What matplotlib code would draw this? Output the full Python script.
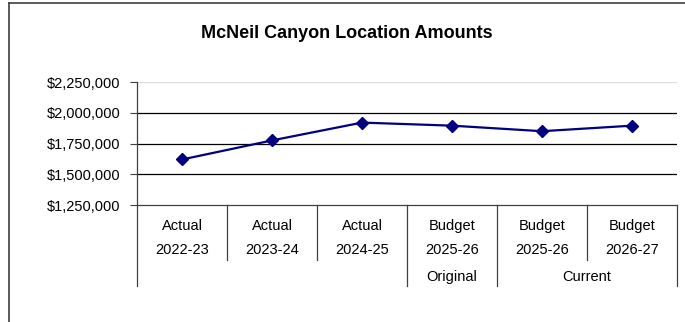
import matplotlib
matplotlib.use("Agg")
import matplotlib.pyplot as plt
from matplotlib.lines import Line2D
from matplotlib.ticker import FuncFormatter

plt.rcParams['font.family'] = ['Liberation Sans', 'DejaVu Sans']

# data
row1 = ["Actual", "Actual", "Actual", "Budget", "Budget", "Budget"]
row2 = ["2022-23", "2023-24", "2024-25", "2025-26", "2025-26", "2026-27"]
groups = [("", 0, 3), ("Original", 3, 4), ("Current", 4, 6)]
amounts = [1620000, 1775000, 1920000, 1895000, 1850000, 1895000]
yticks = [1250000, 1500000, 1750000, 2000000, 2250000]

W, H = 685, 322
fig = plt.figure(figsize=(W / 100, H / 100), dpi=100)

# plot area in pixels: x 137..677, y 82..205
ax = fig.add_axes([137 / W, 1 - 205 / H, 540 / W, 123 / H])
x = [i + 0.5 for i in range(len(amounts))]
ax.plot(x, amounts, color="#000080", lw=1.6, marker="D", ms=6,
        mec="#000080", mfc="#000080", zorder=3)

ax.set_xlim(0, len(amounts))
ax.set_ylim(yticks[0], yticks[-1])
ax.set_yticks(yticks)
ax.yaxis.set_major_formatter(FuncFormatter(lambda v, p: "${:,.0f}".format(v)))
ax.tick_params(axis="y", length=5, width=0.8, color="#404040", labelsize=10.5, pad=7)
ax.set_xticks([])

for t in yticks[1:-1]:
    ax.axhline(t, color="black", lw=0.9, zorder=1)
ax.axhline(yticks[-1], color="#dddddd", lw=0.9, zorder=1)

for s in ["top", "right"]:
    ax.spines[s].set_visible(False)
ax.spines["left"].set_color("#404040")
ax.spines["bottom"].set_color("#404040")
ax.spines["left"].set_linewidth(0.9)
ax.spines["bottom"].set_linewidth(0.9)

# multi-level category axis
trans = ax.get_xaxis_transform()
r1_y, r2_y, r3_y = -0.171, -0.366, -0.585
short_end, long_end = -0.447, -0.659
for i in range(len(amounts)):
    ax.text(i + 0.5, r1_y, row1[i], transform=trans, ha="center", va="center", fontsize=10.5)
    ax.text(i + 0.5, r2_y, row2[i], transform=trans, ha="center", va="center", fontsize=10.5)

group_edges = set()
for name, a, b in groups:
    group_edges.update([a, b])
    if name:
        ax.text((a + b) / 2, r3_y, name, transform=trans, ha="center", va="center", fontsize=10.5)

for e in range(len(amounts) + 1):
    end = long_end if e in group_edges else short_end
    ax.add_line(Line2D([e, e], [0, end], transform=trans, color="#404040",
                       lw=0.9, clip_on=False))

fig.text(347 / W, 1 - 33.5 / H, "McNeil Canyon Location Amounts", ha="center", va="center",
         fontsize=13, fontweight="bold")

# chart area frame (left and top edges visible)
fig.add_artist(Line2D([8.5 / W, 8.5 / W], [0, 1 - 3 / H], transform=fig.transFigure,
                      color="#404040", lw=1.2))
fig.add_artist(Line2D([8.5 / W, 1], [1 - 3 / H, 1 - 3 / H], transform=fig.transFigure,
                      color="#404040", lw=1.2))

fig.savefig("out.png", dpi=100)
